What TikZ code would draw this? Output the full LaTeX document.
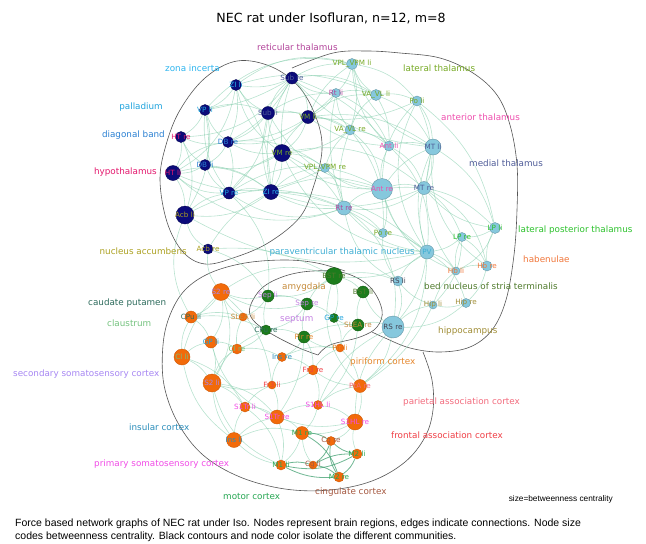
\documentclass[tikz,border=0pt]{standalone}
\usepackage{fontspec}
\setmainfont{DejaVu Sans}
\newfontfamily\capfont{Liberation Sans}
\usetikzlibrary{backgrounds}
% community colours
\definecolor{NAVY}{HTML}{0B0B7A}
\definecolor{SKY}{HTML}{86C8DD}
\definecolor{LEAF}{HTML}{1C7C1C}
\definecolor{ORANGE}{HTML}{F26A0A}
\definecolor{EDGE}{HTML}{7FCBA8}
\definecolor{EDGEDARK}{HTML}{3E9E6E}
\definecolor{HULL}{HTML}{555555}
% region colours
\definecolor{RET}{HTML}{B2449A}
\definecolor{ZI}{HTML}{2DB4EE}
\definecolor{PAL}{HTML}{1EA3DD}
\definecolor{DB}{HTML}{2A80D2}
\definecolor{HYP}{HTML}{E3196E}
\definecolor{ACB}{HTML}{ABA020}
\definecolor{LAT}{HTML}{76A924}
\definecolor{ANT}{HTML}{EE4FAE}
\definecolor{MED}{HTML}{4F5C98}
\definecolor{LP}{HTML}{2BC12B}
\definecolor{HB}{HTML}{F0763A}
\definecolor{PVT}{HTML}{3FAED3}
\definecolor{BST}{HTML}{4F7A2C}
\definecolor{HIP}{HTML}{A08D36}
\definecolor{AMY}{HTML}{C58A3A}
\definecolor{SEP}{HTML}{C482E2}
\definecolor{CPU}{HTML}{2D6B5C}
\definecolor{CL}{HTML}{74C27E}
\definecolor{SSII}{HTML}{A686F2}
\definecolor{PIR}{HTML}{E5862B}
\definecolor{INS}{HTML}{2B8DBA}
\definecolor{PTA}{HTML}{F26B7D}
\definecolor{FR}{HTML}{EF3E45}
\definecolor{SSI}{HTML}{F04CE6}
\definecolor{MOT}{HTML}{25A651}
\definecolor{CG}{HTML}{A4573F}
\definecolor{RS}{HTML}{444455}
\tikzset{
  vtx/.style={circle, inner sep=0pt, line width=0.4pt},
  hyp/.style={vtx, minimum size=#1pt, fill=NAVY, draw=NAVY!70!black},
  thal/.style={vtx, minimum size=#1pt, fill=SKY, draw=SKY!75!black},
  amyg/.style={vtx, minimum size=#1pt, fill=LEAF, draw=LEAF!75!black},
  ctx/.style={vtx, minimum size=#1pt, fill=ORANGE, draw=ORANGE!85!black},
  nl/.style={font=\fontsize{7.2}{8}\selectfont, inner sep=0pt},
  region/.style={font=\fontsize{8.8}{10}\selectfont, inner sep=0pt},
  lk/.style={draw=EDGE, line width=0.6pt, opacity=0.55},
  lkd/.style={draw=EDGEDARK, line width=0.8pt, opacity=0.75},
  hull/.style={draw=HULL, line width=0.6pt}
}
\begin{document}
\begin{tikzpicture}[x=1pt, y=-1pt]
    \useasboundingbox (0,0) rectangle (646,544);
    % Title
    \node[font=\fontsize{12.6}{14}\selectfont] (title) at (331,18) {NEC rat under Isofluran, n=12, m=8};
    % Hypothalamic community
    \node[hyp=12, label={[nl,text=MED]center:Sub re}] (subre) at (292,78) {};
    \node[hyp=11, label={[nl,text=ZI]center:ZI li}] (zili) at (236,85) {};
    \node[hyp=11, label={[nl,text=PAL]center:VP li}] (vpli) at (205,110) {};
    \node[hyp=13, label={[nl,text=MED]center:Sub li}] (subli) at (268,113) {};
    \node[hyp=13, label={[nl,text=LAT]center:VM li}] (vmli) at (308,117) {};
    \node[hyp=11, label={[nl,text=HYP]center:HT re}] (htre) at (181,137) {};
    \node[hyp=11, label={[nl,text=DB]center:DB re}] (dbre) at (228,142) {};
    \node[hyp=17, label={[nl,text=LAT]center:VM re}] (vmre) at (282,153) {};
    \node[hyp=11, label={[nl,text=DB]center:DB li}] (dbli) at (205,165) {};
    \node[hyp=15, label={[nl,text=HYP]center:HT li}] (htli) at (173,173) {};
    \node[hyp=12, label={[nl,text=PAL]center:VP re}] (vpre) at (229,193) {};
    \node[hyp=15, label={[nl,text=ZI]center:ZI re}] (zire) at (271,192) {};
    \node[hyp=18, label={[nl,text=ACB]center:Acb li}] (acbli) at (185,215) {};
    \node[hyp=10, label={[nl,text=ACB]center:Acb re}] (acbre) at (208,249) {};
    % Thalamic community
    \node[thal=11, label={[nl,text=LAT]center:VPL\_VPM li}] (vplli) at (352,64) {};
    \node[thal=9, label={[nl,text=RET]center:Rt li}] (rtli) at (336,93) {};
    \node[thal=11, label={[nl,text=LAT]center:VA\_VL li}] (vavlli) at (376,95) {};
    \node[thal=10, label={[nl,text=LAT]center:Po li}] (poli) at (417,101) {};
    \node[thal=10, label={[nl,text=LAT]center:VA\_VL re}] (vavlre) at (350,130) {};
    \node[thal=10, label={[nl,text=ANT]center:Ant li}] (antli) at (389,146) {};
    \node[thal=16, label={[nl,text=MED]center:MT li}] (mtli) at (433,147) {};
    \node[thal=9, label={[nl,text=LAT]center:VPL\_VPM re}] (vplre) at (325,168) {};
    \node[thal=21, label={[nl,text=ANT]center:Ant re}] (antre) at (382,189) {};
    \node[thal=13, label={[nl,text=MED]center:MT re}] (mtre) at (424,188) {};
    \node[thal=14, label={[nl,text=RET]center:Rt re}] (rtre) at (344,208) {};
    \node[thal=9, label={[nl,text=LAT]center:Po re}] (pore) at (383,233) {};
    \node[thal=11, label={[nl,text=LP]center:LP li}] (lpli) at (495,228) {};
    \node[thal=9, label={[nl,text=LP]center:LP re}] (lpre) at (462,237) {};
    \node[thal=14, label={[nl,text=PVT]center:PV}] (pv) at (427,252) {};
    \node[thal=8, label={[nl,text=HB]center:Hb li}] (hbli) at (456,271) {};
    \node[thal=10, label={[nl,text=HB]center:Hb re}] (hbre) at (487,266) {};
    \node[thal=8, label={[nl,text=HIP]center:Hip li}] (hipli) at (433,305) {};
    \node[thal=9, label={[nl,text=HIP]center:Hip re}] (hipre) at (466,303) {};
    \node[thal=10, label={[nl,text=RS]center:RS li}] (rsli) at (398,281) {};
    \node[thal=22, label={[nl,text=RS]center:RS re}] (rsre) at (393,327) {};
    % Amygdala / septum community
    \node[amyg=17, label={[nl,text=BST]center:BST re}] (bstre) at (334,276) {};
    \node[amyg=12, label={[nl,text=BST]center:BST li}] (bstli) at (363,292) {};
    \node[amyg=12, label={[nl,text=SEP]center:Sep li}] (sepli) at (268,296) {};
    \node[amyg=12, label={[nl,text=SEP]center:Sep re}] (sepre) at (307,304) {};
    \node[amyg=9, label={[nl,text=PAL]center:GP re}] (gpre) at (334,318) {};
    \node[amyg=12, label={[nl,text=AMY]center:SLEA re}] (slear) at (358,325) {};
    \node[amyg=10, label={[nl,text=CPU]center:CPu re}] (cpure) at (266,330) {};
    \node[amyg=12, label={[nl,text=PIR]center:Pir re}] (pirre) at (304,337) {};
    % Cortical community
    \node[ctx=17, label={[nl,text=SSII]center:S2 re}] (s2re) at (221,292) {};
    \node[ctx=12, label={[nl,text=CPU]center:CPu li}] (cpuli) at (191,317) {};
    \node[ctx=8, label={[nl,text=AMY]center:SLEA li}] (sleali) at (243,317) {};
    \node[ctx=12, label={[nl,text=PAL]center:GP li}] (gpli) at (211,342) {};
    \node[ctx=10, label={[nl,text=CL]center:Cl re}] (clre) at (237,349) {};
    \node[ctx=16, label={[nl,text=CL]center:Cl li}] (clli) at (182,357) {};
    \node[ctx=9, label={[nl,text=INS]center:Ins re}] (insre) at (282,357) {};
    \node[ctx=8, label={[nl,text=PIR]center:Pir li}] (pirli) at (340,348) {};
    \node[ctx=10, label={[nl,text=FR]center:Fr3 re}] (fr3re) at (313,370) {};
    \node[ctx=18, label={[nl,text=SSII]center:S2 li}] (s2li) at (212,383) {};
    \node[ctx=8, label={[nl,text=FR]center:Fr3 li}] (fr3li) at (272,385) {};
    \node[ctx=13, label={[nl,text=PTA]center:PtA re}] (ptare) at (360,386) {};
    \node[ctx=10, label={[nl,text=SSI]center:S1Tr li}] (s1trli) at (245,407) {};
    \node[ctx=9, label={[nl,text=SSI]center:S1HL li}] (s1hlli) at (318,405) {};
    \node[ctx=14, label={[nl,text=SSI]center:S1Tr re}] (s1trre) at (277,417) {};
    \node[ctx=16, label={[nl,text=SSI]center:S1HL re}] (s1hlre) at (355,422) {};
    \node[ctx=15, label={[nl,text=INS]center:Ins li}] (insli) at (234,440) {};
    \node[ctx=13, label={[nl,text=MOT]center:M1 re}] (m1re) at (302,433) {};
    \node[ctx=9, label={[nl,text=CG]center:Cg re}] (cgre) at (331,441) {};
    \node[ctx=10, label={[nl,text=MOT]center:M2 li}] (m2li) at (357,454) {};
    \node[ctx=10, label={[nl,text=MOT]center:M1 li}] (m1li) at (281,465) {};
    \node[ctx=8, label={[nl,text=CG]center:Cg li}] (cgli) at (313,465) {};
    \node[ctx=10, label={[nl,text=MOT]center:M2 re}] (m2re) at (339,477) {};
    % Region names
    \node[region, text=RET, anchor=west] (nreticular) at (257,47) {reticular thalamus};
    \node[region, text=ZI, anchor=west] (nzona) at (165,68) {zona incerta};
    \node[region, text=PAL, anchor=east] (npalladium) at (163,107) {palladium};
    \node[region, text=DB, anchor=east] (ndiagonal) at (165,135) {diagonal band};
    \node[region, text=HYP, anchor=east] (nhypo) at (157,172) {hypothalamus};
    \node[region, text=ACB, anchor=east] (naccumbens) at (187,251) {nucleus accumbens};
    \node[region, text=LAT, anchor=west] (nlateral) at (403,68) {lateral thalamus};
    \node[region, text=ANT, anchor=west] (nanterior) at (441,117) {anterior thalamus};
    \node[region, text=MED, anchor=west] (nmedial) at (469,163) {medial thalamus};
    \node[region, text=LP, anchor=west] (nlatpost) at (518,230) {lateral posterior thalamus};
    \node[region, text=HB, anchor=west] (nhabenulae) at (523,259) {habenulae};
    \node[region, text=PVT, anchor=east] (nparavent) at (415,252) {paraventricular thalamic nucleus};
    \node[region, text=BST, anchor=west] (nbed) at (424,286) {bed nucleus of stria terminalis};
    \node[region, text=HIP, anchor=west] (nhippo) at (438,331) {hippocampus};
    \node[region, text=AMY, anchor=west] (namygdala) at (282,287) {amygdala};
    \node[region, text=SEP, anchor=west] (nseptum) at (280,319) {septum};
    \node[region, text=CPU, anchor=west] (ncaudate) at (88,303) {caudate putamen};
    \node[region, text=CL, anchor=west] (nclaustrum) at (107,323) {claustrum};
    \node[region, text=SSII, anchor=west] (nsecondary) at (13,374) {secondary somatosensory cortex};
    \node[region, text=INS, anchor=west] (ninsular) at (129,427) {insular cortex};
    \node[region, text=SSI, anchor=west] (nprimary) at (94,464) {primary somatosensory cortex};
    \node[region, text=PIR, anchor=west] (npiriform) at (350,362) {piriform cortex};
    \node[region, text=PTA, anchor=west] (nparietal) at (403,402) {parietal association cortex};
    \node[region, text=FR, anchor=west] (nfrontal) at (391,435) {frontal association cortex};
    \node[region, text=CG, anchor=west] (ncingulate) at (315,492) {cingulate cortex};
    \node[region, text=MOT, anchor=west] (nmotor) at (223,496) {motor cortex};
    \node[anchor=east, inner sep=0pt, font=\capfont\fontsize{8.3}{10}\selectfont] (nsize) at (613,499) {size=betweenness centrality};
    % Caption
    \node[anchor=west, inner sep=0pt, font=\capfont\fontsize{10.5}{12}\selectfont] (cap1) at (15,524) {Force based network graphs of NEC rat under Iso. Nodes represent brain regions, edges indicate connections. Node size};
    \node[anchor=west, inner sep=0pt, font=\capfont\fontsize{10.5}{12}\selectfont] (cap2) at (15,537) {codes betweenness centrality. Black contours and node color isolate the different communities.};
    \begin{scope}[on background layer]
    % Community contours
    \draw[hull] plot[smooth cycle, tension=0.6] coordinates {(237,61) (272,67) (300,88) (317,120) (322,150) (314,185) (300,217) (268,243) (233,258) (205,264) (183,252) (167,222) (160,180) (166,145) (180,110) (205,78)};
    \draw[hull] plot[smooth, tension=0.6] coordinates {(292,68) (333,53) (367,51) (400,53) (440,58) (473,73) (497,95) (510,125) (517,165) (517,210) (514,255) (506,300) (492,330) (470,347) (440,352) (410,348) (385,338) (372,332)};
    \draw[hull] plot[smooth, tension=0.6] coordinates {(318,355) (297,347) (270,333) (253,320) (250,307) (262,288) (285,276) (313,271) (345,273) (370,287) (382,310) (377,327) (360,337) (330,345) (318,355)};
    \draw[hull] plot[smooth, tension=0.6] coordinates {(423,352) (432,380) (433,410) (425,437) (405,462) (372,481) (330,490) (285,489) (240,477) (203,455) (178,423) (164,385) (163,345) (170,315) (185,290) (210,273) (245,263) (285,260) (317,263) (345,271)};
    % Connections
    \foreach \a/\b/\c in {subre/zili/15, subre/subli/-15, subre/vmli/20, subre/vmre/-10, subre/dbre/15, subre/zire/-20, subre/htre/25, subre/vpli/10,
        zili/vpli/15, zili/subli/-15, zili/dbre/15, zili/vmre/-20, zili/htli/25, zili/zire/15,
        vpli/htre/15, vpli/dbre/-15, vpli/subli/20, vpli/dbli/15, vpli/vpre/-20, vpli/acbli/20,
        subli/vmli/15, subli/vmre/-15, subli/dbre/15, subli/zire/-15, subli/vpre/20,
        vmli/vmre/15, vmli/zire/-20, vmli/dbre/25,
        htre/dbre/-15, htre/htli/15, htre/dbli/-15, htre/acbli/20,
        dbre/dbli/15, dbre/vmre/-15, dbre/vpre/15, dbre/htli/-20,
        vmre/zire/15, vmre/vpre/-15, vmre/dbli/20,
        dbli/htli/15, dbli/vpre/-15, dbli/zire/15,
        htli/acbli/15, htli/vpre/-20, htli/zire/25,
        vpre/zire/15, vpre/acbli/-15, zire/acbli/20, acbli/acbre/-20, acbre/zire/15}
        \draw[lk] (\a) to[bend left=\c] (\b);
    \foreach \a/\b/\c in {vmli/vplli/15, vmli/rtli/-15, vmli/vavlli/20, subre/vplli/15, subre/rtli/-20, vmre/vplre/15, vmre/vavlre/-15, vmli/vavlre/15,
        zire/rtre/-15, zire/vplre/20, subli/rtli/15, zili/vplli/25, vmre/antre/-20, zire/pore/15, vmli/antli/-15, subre/vavlli/20,
        vpre/rtre/-25, dbre/vplre/20, acbli/pv/-20, htli/rtre/-30,
        subre/mtli/-20, subre/antli/15, vmli/mtli/20, vmli/poli/-15, zili/vavlli/20, subli/antre/-25, vmre/mtre/25, zire/antre/20,
        vmre/rtre/15, zire/mtre/-20, subli/vavlre/15, htli/vplre/-25, vpre/antre/30, dbre/rtli/-20, vpli/vplli/30, acbli/rtre/25,
        zire/pv/20, vmre/pv/-30}
        \draw[lk] (\a) to[bend left=\c] (\b);
    \foreach \a/\b/\c in {vplli/rtli/15, vplli/vavlli/-15, vplli/poli/20, vplli/vavlre/15, vplli/antli/-20,
        rtli/vavlli/15, rtli/vavlre/-15, rtli/antli/20, rtli/rtre/-15,
        vavlli/poli/15, vavlli/vavlre/-15, vavlli/mtli/20, vavlli/antli/15,
        poli/mtli/15, poli/antre/-20, poli/mtre/20,
        vavlre/antli/15, vavlre/vplre/-15, vavlre/antre/20, vavlre/rtre/-15,
        antli/mtli/15, antli/antre/-15, antli/mtre/20,
        mtli/mtre/15, mtli/antre/-15, mtli/lpli/20, mtli/pv/-20,
        vplre/rtre/15, vplre/antre/-20,
        antre/mtre/15, antre/rtre/-15, antre/pore/15, antre/pv/-20,
        mtre/rtre/20, mtre/pv/-15, mtre/lpre/15, mtre/lpli/-20, mtre/hbre/25,
        rtre/pore/15, rtre/pv/-20, pore/pv/15, pore/rsli/-20,
        lpli/lpre/15, lpli/hbre/-15, lpli/hbli/20,
        lpre/pv/15, lpre/hbli/-15, lpre/hbre/15,
        pv/hbli/15, pv/rsli/-15, pv/hipre/20,
        hbli/hbre/15, hbli/hipli/-15, hbre/hipre/15,
        hipli/hipre/-15, hipre/rsre/20, hipli/rsre/-15, rsli/rsre/20, mtli/hbre/-30, antre/lpli/25, rtre/rsli/-25,
        vplli/mtli/-25, poli/lpli/20, antli/pv/25, mtli/hbli/-25, vavlre/pore/20, antre/hbli/-25, rtre/rsre/30,
        pv/rsre/15, lpre/hipli/20, rsli/hipli/-15, poli/pv/-30}
        \draw[lk] (\a) to[bend left=\c] (\b);
    \foreach \a/\b/\c in {rsre/bstli/15, rsre/slear/-15, bstre/rsli/15, bstre/pv/-20, rsre/ptare/20, rsre/s1hlre/-20,
        pv/ptare/25, rsre/s1hlli/-20, hipli/ptare/15,
        bstre/bstli/15, bstre/sepre/-15, bstre/sepli/20, bstre/gpre/15, bstli/slear/-15, sepli/sepre/15, sepli/cpure/-15,
        sepre/gpre/15, sepre/pirre/-15, cpure/pirre/15, gpre/slear/-15, pirre/slear/15, sepre/cpure/20,
        sepli/s2re/15, cpure/cpuli/-15, cpure/clre/15, pirre/pirli/-15, pirre/insre/15, slear/pirli/-20, sepli/sleali/15,
        bstre/s2re/-25, pirre/fr3re/15, acbre/sepli/20, acbre/s2re/-20, acbre/bstre/15, acbli/cpuli/-25, vpre/sepli/25,
        sepre/s2re/20, cpure/s2li/-20, pirre/s1trre/15, gpre/pirli/20, bstre/ptare/-30, slear/s1hlli/20}
        \draw[lk] (\a) to[bend left=\c] (\b);
    \foreach \a/\b/\c in {s2re/cpuli/15, s2re/sleali/-15, s2re/gpli/20, s2re/clli/-15, s2re/s2li/25, cpuli/gpli/15, cpuli/clli/-15,
        cpuli/sleali/15, sleali/clre/-15, gpli/clre/15, gpli/clli/-15, gpli/s2li/15, clre/insre/15, clre/s2li/-20, clli/s2li/15,
        clli/insli/-20, insre/fr3re/15, insre/fr3li/-15, insre/pirli/15, pirli/fr3re/-15, pirli/ptare/15, fr3re/fr3li/15,
        fr3re/ptare/-15, fr3re/s1hlli/15, s2li/s1trli/15, s2li/insli/-15, s2li/s1trre/20, s2li/fr3li/-15, fr3li/s1trre/15,
        fr3li/s1trli/-15, ptare/s1hlre/15, ptare/s1hlli/-15, s1trli/s1trre/15, s1trli/insli/-15, s1trli/m1li/20,
        s1hlli/s1hlre/15, s1hlli/s1trre/-15, s1hlli/m1re/15, s1trre/m1re/15, s1trre/s1hlre/-15, s1trre/m1li/15,
        s1trre/insli/-15, s1hlre/m1re/15, s1hlre/m2li/-15, s1hlre/cgre/15, insli/m1li/-15, m1re/m1li/15, m1re/cgli/-15,
        s2li/m1li/-25, insli/m1re/20, clli/s1trli/20, gpli/s1trre/-25, s2re/fr3li/20}
        \draw[lk] (\a) to[bend left=\c] (\b);
    % cingulate / motor core
    \foreach \a/\b/\c in {m1re/cgre/15, cgre/m2li/-15, cgre/cgli/15, cgre/m2re/-20, m2li/m2re/15, m2li/cgli/-15,
        m1li/cgli/15, m1li/m2re/-15, cgli/m2re/15, m1li/m2li/-20, m1re/m2re/20}
        \draw[lkd] (\a) to[bend left=\c] (\b);
    \end{scope}
\end{tikzpicture}
\end{document}
